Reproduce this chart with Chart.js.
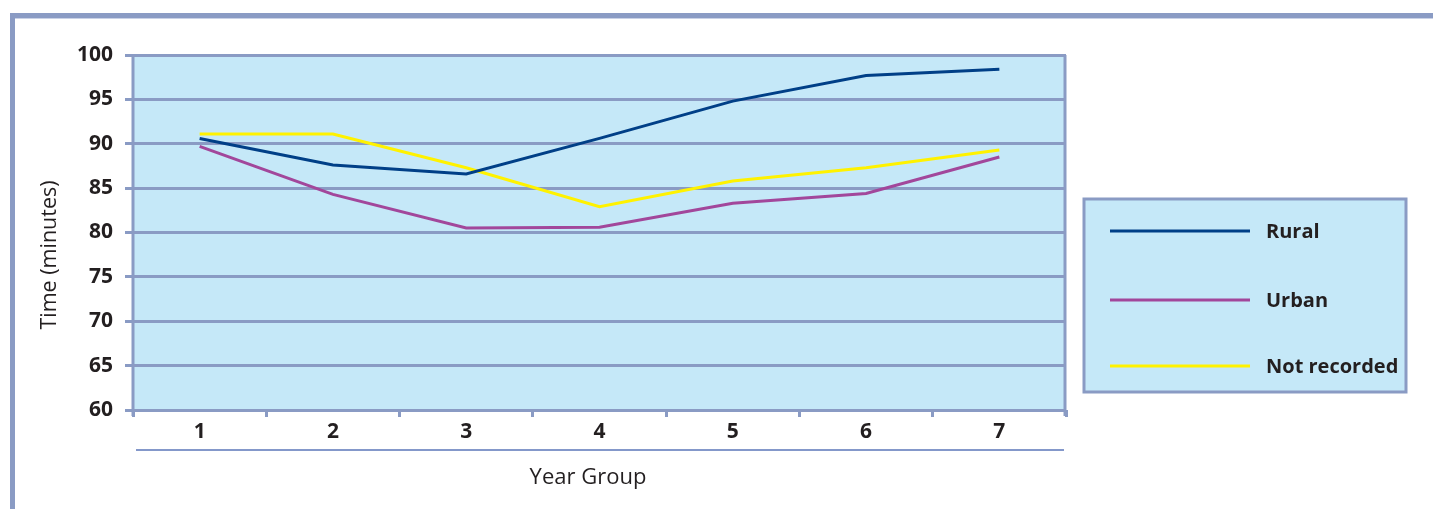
<!DOCTYPE html>
<html>
<head>
<meta charset="utf-8">
<script src="https://cdn.jsdelivr.net/npm/chart.js@4/dist/chart.umd.min.js"></script>
<style>
  html, body { margin: 0; padding: 0; background: #ffffff; }
  #wrap { width: 1433px; height: 509px; position: relative; }
</style>
</head>
<body>
<div id="wrap"><canvas id="c" width="1433" height="509"></canvas></div>
<script>
// Reading time by year group
const yearGroups = ['1', '2', '3', '4', '5', '6', '7'];
const rural = [90.6, 87.6, 86.6, 90.6, 94.8, 97.7, 98.4];
const urban = [89.7, 84.3, 80.5, 80.6, 83.3, 84.4, 88.5];
const notRecorded = [91.1, 91.1, 87.3, 82.9, 85.8, 87.3, 89.3];
const yTicks = [60, 65, 70, 75, 80, 85, 90, 95, 100];
const seriesNames = ['Rural', 'Urban', 'Not recorded'];

const GRID = '#8a9bc4';
const PLOT_BG = '#c5e8f8';
const TEXT = '#231f20';
const FONT = '"Open Sans", "Liberation Sans", sans-serif';

// Frame, plot background, label separator, axis titles and legend box
const decor = {
  id: 'decor',
  beforeDraw(chart) {
    const { ctx, chartArea: a } = chart;
    ctx.save();
    ctx.fillStyle = PLOT_BG;
    ctx.fillRect(a.left, a.top, a.right - a.left, a.bottom - a.top);
    ctx.restore();
  },
  afterDraw(chart) {
    const { ctx, chartArea: a } = chart;
    ctx.save();
    // outer frame (top and left)
    ctx.fillStyle = GRID;
    ctx.fillRect(10, 13, 1423, 5);
    ctx.fillRect(10, 13, 5, 496);
    ctx.fillStyle = '#c9d1e6';
    ctx.fillRect(15, 18, 1418, 1);

    // plot side borders
    ctx.strokeStyle = GRID;
    ctx.lineWidth = 3;
    ctx.beginPath();
    ctx.moveTo(a.right - 1, a.top);
    ctx.lineTo(a.right - 1, a.bottom + 6);
    ctx.stroke();
    ctx.beginPath();
    ctx.moveTo(a.left, a.top - 1);
    ctx.lineTo(a.left, a.bottom + 6);
    ctx.stroke();

    // separator under category labels
    ctx.strokeStyle = '#5b76b8';
    ctx.lineWidth = 1.5;
    ctx.beginPath();
    ctx.moveTo(a.left + 3, 450);
    ctx.lineTo(a.right - 2, 450);
    ctx.stroke();

    // axis titles
    ctx.fillStyle = TEXT;
    ctx.font = '22px ' + FONT;
    ctx.textAlign = 'center';
    ctx.textBaseline = 'middle';
    ctx.fillText('Year Group', 588, 478);
    ctx.save();
    ctx.translate(50, 255);
    ctx.rotate(-Math.PI / 2);
    ctx.font = '21.5px ' + FONT;
    ctx.fillText('Time (minutes)', 0, 0);
    ctx.restore();

    // legend
    const lx = 1084, ly = 199, lw = 322, lh = 193;
    ctx.fillStyle = PLOT_BG;
    ctx.fillRect(lx, ly, lw, lh);
    ctx.strokeStyle = GRID;
    ctx.lineWidth = 3;
    ctx.strokeRect(lx, ly, lw, lh);
    const rows = [231, 300, 366];
    chart.data.datasets.forEach((ds, i) => {
      ctx.strokeStyle = ds.borderColor;
      ctx.lineWidth = 3;
      ctx.beginPath();
      ctx.moveTo(1110, rows[i]);
      ctx.lineTo(1250, rows[i]);
      ctx.stroke();
      ctx.fillStyle = TEXT;
      ctx.font = 'bold 20px ' + FONT;
      ctx.textAlign = 'left';
      ctx.textBaseline = 'middle';
      ctx.fillText(ds.label, 1266, rows[i] + 1);
    });
    ctx.restore();
  }
};

new Chart(document.getElementById('c'), {
  type: 'line',
  data: {
    labels: yearGroups,
    datasets: [
      { label: seriesNames[0], data: rural, borderColor: '#003f87' },
      { label: seriesNames[1], data: urban, borderColor: '#a2479b' },
      { label: seriesNames[2], data: notRecorded, borderColor: '#fff200' }
    ].map(d => Object.assign(d, { borderWidth: 3, pointRadius: 0, tension: 0, fill: false }))
  },
  options: {
    responsive: false,
    animation: false,
    layout: { padding: { left: 0, top: 55, right: 367, bottom: 0 } },
    plugins: { legend: { display: false }, tooltip: { enabled: false } },
    scales: {
      x: {
        offset: true,
        grid: { offset: true, drawOnChartArea: false, drawTicks: true, tickLength: 7, color: GRID, lineWidth: 3 },
        border: { display: false },
        ticks: { color: TEXT, font: { family: FONT, size: 21, weight: 'bold' }, padding: 2, maxRotation: 0 },
        afterFit(s) { s.height = 99; }
      },
      y: {
        min: 60, max: 100,
        afterBuildTicks(s) { s.ticks = yTicks.map(v => ({ value: v })); },
        grid: { color: GRID, lineWidth: 3, tickLength: 8, drawTicks: true },
        border: { display: false },
        ticks: { color: TEXT, font: { family: FONT, size: 21, weight: 'bold' }, padding: 12 },
        afterFit(s) { s.width = 133; }
      }
    }
  },
  plugins: [decor]
});
</script>
</body>
</html>
